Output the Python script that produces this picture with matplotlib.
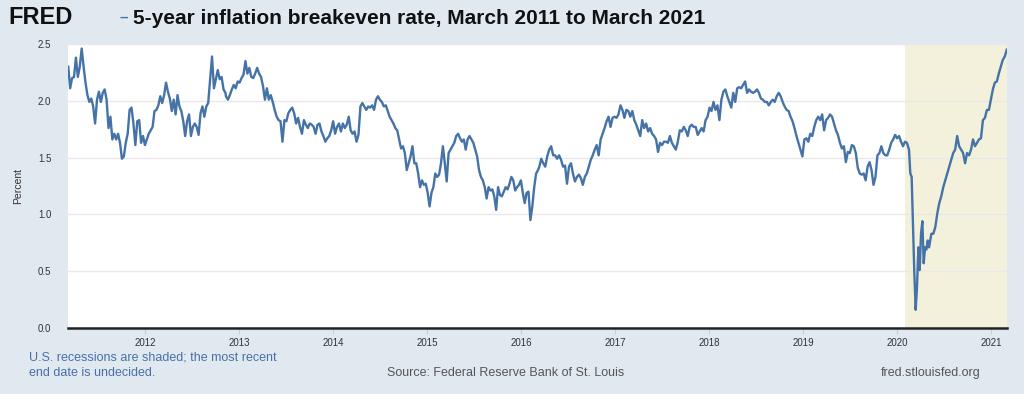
import numpy as np
import pandas as pd
import matplotlib
matplotlib.use("Agg")
import matplotlib.pyplot as plt
import matplotlib.dates as mdates

plt.rcParams["font.family"] = ["Liberation Sans", "DejaVu Sans"]

# 5-year breakeven in pieces (start date, end date, values)
seg_a = ("2011-03-08", "2012-11-08", [
    2.30, 2.11, 2.20, 2.21, 2.38, 2.21, 2.30, 2.46, 2.30, 2.16, 2.05, 1.99, 2.02, 1.95, 1.80,
    2.01, 2.08, 1.99, 2.07, 2.10, 2.01, 1.76, 1.86, 1.66, 1.71, 1.66, 1.71, 1.63, 1.49, 1.51,
    1.63, 1.71, 1.92, 1.94, 1.80, 1.61, 1.82, 1.83, 1.63, 1.69, 1.61, 1.66, 1.71, 1.74, 1.77,
    1.91, 1.92, 1.96, 2.04, 1.98, 2.05, 2.16, 2.08, 2.02, 1.91, 2.01, 1.88, 2.05, 1.95, 1.91,
    1.82, 1.69, 1.82, 1.88, 1.69, 1.77, 1.80, 1.77, 1.70, 1.89, 1.95, 1.86, 1.95, 1.98, 2.19,
    2.39, 2.11, 2.19, 2.27, 2.19, 2.21, 2.10, 2.07])
seg_b = ("2012-11-10", "2014-07-09", [
    2.04, 2.01, 2.05, 2.10, 2.14, 2.11, 2.17, 2.16, 2.20, 2.23, 2.35, 2.24, 2.29, 2.21, 2.20,
    2.24, 2.29, 2.24, 2.21, 2.13, 2.01, 2.11, 2.01, 2.05, 1.99, 1.92, 1.86, 1.83, 1.82, 1.64,
    1.83, 1.82, 1.89, 1.92, 1.94, 1.89, 1.80, 1.85, 1.77, 1.71, 1.83, 1.79, 1.76, 1.80, 1.79,
    1.77, 1.71, 1.79, 1.80, 1.73, 1.69, 1.64, 1.67, 1.69, 1.74, 1.82, 1.71, 1.77, 1.80, 1.73,
    1.80, 1.76, 1.79, 1.86, 1.74, 1.71, 1.73, 1.64, 1.70, 1.95, 1.98, 1.95, 1.92, 1.95, 1.94,
    1.96, 1.92, 2.01, 2.04, 2.01, 1.99])
seg_c = ("2014-07-17", "2016-03-07", [
    1.95, 1.96, 1.91, 1.86, 1.83, 1.80, 1.76, 1.74, 1.66, 1.58, 1.60, 1.54, 1.39, 1.45,
    1.51, 1.60, 1.45, 1.45, 1.36, 1.24, 1.30, 1.26, 1.27, 1.19, 1.07, 1.19, 1.24, 1.36, 1.33,
    1.35, 1.45, 1.60, 1.45, 1.29, 1.54, 1.57, 1.60, 1.63, 1.69, 1.71, 1.67, 1.64, 1.66, 1.57,
    1.66, 1.69, 1.66, 1.63, 1.57, 1.51, 1.39, 1.33, 1.30, 1.24, 1.14, 1.24, 1.21, 1.22, 1.16,
    1.04, 1.24, 1.17, 1.16, 1.20, 1.24, 1.22, 1.27, 1.33, 1.30, 1.21, 1.24, 1.26, 1.30, 1.19,
    1.10, 1.19, 1.20, 0.95, 1.07, 1.24, 1.36, 1.39])
seg_d = ("2016-03-12", "2017-11-02", [
    1.42, 1.49, 1.45, 1.42, 1.51, 1.57, 1.60, 1.52, 1.52, 1.49, 1.52, 1.48, 1.42, 1.43, 1.27,
    1.42, 1.45, 1.36, 1.29, 1.33, 1.35, 1.32, 1.26, 1.33, 1.36, 1.42, 1.48, 1.52, 1.57, 1.61,
    1.52, 1.66, 1.71, 1.76, 1.82, 1.86, 1.77, 1.85, 1.86, 1.85, 1.88, 1.96, 1.92, 1.85, 1.92,
    1.91, 1.86, 1.91, 1.83, 1.79, 1.74, 1.69, 1.83, 1.76, 1.80, 1.73, 1.76, 1.71, 1.69, 1.66,
    1.55, 1.63, 1.61, 1.64, 1.64, 1.63, 1.69, 1.63, 1.60, 1.57, 1.64, 1.74, 1.73, 1.77, 1.74,
    1.69, 1.77, 1.79, 1.77])
seg_e = ("2017-11-10", "2019-07-02", [
    1.77, 1.70, 1.73, 1.76, 1.73, 1.83, 1.86, 1.94, 1.91, 1.99, 1.92, 1.96, 1.83, 2.01, 2.08,
    2.10, 2.04, 1.99, 1.94, 2.07, 1.99, 2.11, 2.12, 2.11, 2.14, 2.17, 2.07, 2.10, 2.08, 2.07,
    2.08, 2.10, 2.07, 2.02, 2.01, 1.99, 1.99, 1.96, 1.99, 2.01, 1.99, 2.04, 2.07, 2.04, 1.99,
    1.95, 1.92, 1.91, 1.86, 1.82, 1.76, 1.69, 1.63, 1.57, 1.51, 1.66, 1.67,
    1.64, 1.71, 1.69, 1.77, 1.83, 1.86, 1.83, 1.88, 1.74, 1.83, 1.85, 1.88, 1.86, 1.80, 1.74,
    1.70, 1.63, 1.58, 1.60, 1.46, 1.55, 1.54])
seg_f1 = ("2019-07-10", "2020-02-09", [
    1.61, 1.60, 1.54, 1.41, 1.36, 1.35, 1.36, 1.30, 1.42, 1.46, 1.39, 1.26, 1.33, 1.52, 1.54,
    1.60, 1.54, 1.52, 1.52, 1.57, 1.63, 1.66, 1.70, 1.67, 1.69, 1.64, 1.60, 1.64, 1.63])
seg_f2 = ("2020-02-17", "2020-05-05", [
    1.57, 1.36, 1.33, 0.89, 0.48, 0.16, 0.36, 0.71, 0.51, 0.83, 0.94, 0.57, 0.71, 0.69, 0.77,
    0.71])
seg_f3 = ("2020-05-14", "2021-03-03", [
    0.83, 0.83, 0.89, 1.01, 1.10, 1.16, 1.24, 1.30, 1.36, 1.42, 1.48, 1.54, 1.57, 1.69,
    1.60, 1.57, 1.54, 1.45, 1.54, 1.52, 1.57, 1.66, 1.60, 1.63, 1.66, 1.67, 1.83, 1.85, 1.92,
    1.92, 2.01, 2.10, 2.16, 2.17, 2.24, 2.30, 2.36, 2.39, 2.45])

segments = [seg_a, seg_b, seg_c, seg_d, seg_e, seg_f1, seg_f2, seg_f3]
recession_start = "2020-02-01"
x_start, x_end = "2011-03-07", "2021-03-04"
y_ticks = [0.0, 0.5, 1.0, 1.5, 2.0, 2.5]

dates = []
vals = []
for start, end, v in segments:
    dates.append(pd.date_range(start, end, periods=len(v)))
    vals.extend(v)
dates = np.concatenate([d.values for d in dates])
series = pd.Series(vals, index=pd.to_datetime(dates))

bg = "#e1e9f0"
line_col = "#4572a7"
txt = "#333333"

fig = plt.figure(figsize=(10.24, 3.94), dpi=100, facecolor=bg)
ax = fig.add_axes([68 / 1024, 1 - 328 / 394, 939 / 1024, 284 / 394])
ax.set_facecolor("white")

ax.axvspan(pd.Timestamp(recession_start), pd.Timestamp(x_end), color="#f3f1dc", lw=0, zorder=0)
ax.plot(series.index, series.values, color=line_col, lw=1.7, zorder=3)

ax.set_xlim(pd.Timestamp(x_start), pd.Timestamp(x_end))
ax.set_ylim(0, 2.5)
ax.set_yticks(y_ticks)
ax.set_yticklabels([f"{t:.1f}" for t in y_ticks])
ax.yaxis.grid(True, color="#e8e8e8", lw=1)
ax.set_axisbelow(True)

ax.xaxis.set_major_locator(mdates.YearLocator())
ax.xaxis.set_major_formatter(mdates.DateFormatter("%Y"))

for s in ["top", "right", "left"]:
    ax.spines[s].set_visible(False)
ax.spines["bottom"].set_color("#222222")
ax.spines["bottom"].set_linewidth(1.8)
ax.spines["bottom"].set_zorder(5)

ax.tick_params(axis="y", length=0, pad=12, labelsize=7, labelcolor=txt)
ax.tick_params(axis="x", length=4, width=0.8, color="#c5ced8", pad=3, labelsize=7, labelcolor=txt)
ax.set_ylabel("Percent", fontsize=7.5, color=txt)
ax.yaxis.set_label_coords(-45 / 939, 0.5)

# header
fig.text(8 / 1024, 1 - 18 / 394, "FRED", fontsize=17, fontweight="heavy", color="#111111",
         va="center", ha="left")
fig.text(119 / 1024, 1 - 18 / 394, "\u2013", fontsize=11, fontweight="bold", color=line_col,
         va="center", ha="left")
fig.text(133 / 1024, 1 - 18 / 394, "5-year inflation breakeven rate, March 2011 to March 2021",
         fontsize=15, fontweight="bold", color="#111111", va="center", ha="left")

# footer
fig.text(29 / 1024, 1 - 357 / 394, "U.S. recessions are shaded; the most recent",
         fontsize=9.0, color="#4a6fa8", va="center", ha="left")
fig.text(29 / 1024, 1 - 373 / 394, "end date is undecided.",
         fontsize=9.0, color="#4a6fa8", va="center", ha="left")
fig.text(506 / 1024, 1 - 373 / 394, "Source: Federal Reserve Bank of St. Louis",
         fontsize=9.0, color="#555555", va="center", ha="center")
fig.text(981 / 1024, 1 - 373 / 394, "fred.stlouisfed.org",
         fontsize=9.0, color="#555555", va="center", ha="right")

fig.savefig("out.png", dpi=100, facecolor=bg)
